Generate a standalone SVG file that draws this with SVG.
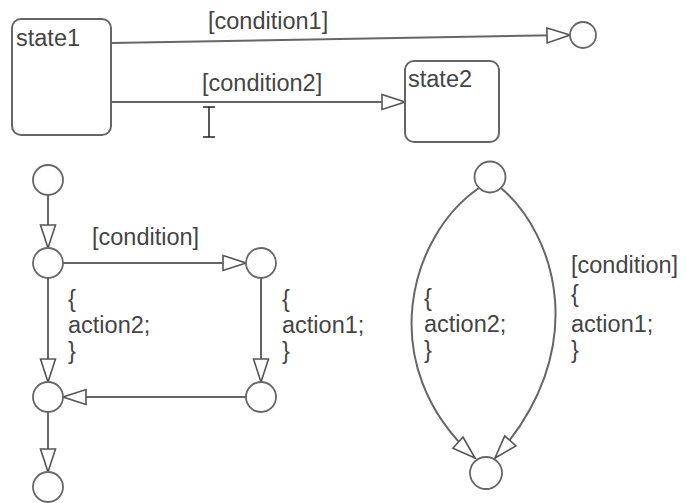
<svg xmlns="http://www.w3.org/2000/svg" width="686" height="503" viewBox="0 0 686 503">
<defs>
<marker id="arr" markerUnits="userSpaceOnUse" viewBox="-2 -2 27 19" markerWidth="27" markerHeight="19" refX="23" refY="7.5" orient="auto">
<path d="M0,0 L23,7.5 L0,15 Z" fill="#fff" stroke="#555" stroke-width="1.6" stroke-linejoin="miter"/>
</marker>
</defs>
<style>
text{font-family:"Liberation Sans",Arial,sans-serif;font-size:23.5px;fill:#444}
.st{fill:#fff;stroke:#666;stroke-width:2}
.jn{fill:#fff;stroke:#666;stroke-width:1.8}
.cn{fill:none;stroke:#666;stroke-width:2;marker-end:url(#arr)}
</style>
<rect width="686" height="503" fill="#fff"/>
<g id="connectors">
<path class="cn" d="M111,43 L570,35"/>
<path class="cn" d="M111,102 L405,102"/>
<path class="cn" d="M48,195 L48,248"/>
<path class="cn" d="M63,263 L246,263"/>
<path class="cn" d="M261,278 L261,382"/>
<path class="cn" d="M246,397 L63,397"/>
<path class="cn" d="M48,278 L48,382"/>
<path class="cn" d="M48,412 L48,472"/>
<path class="cn" d="M479,188 C410,235 372,365 475,458"/>
<path class="cn" d="M501,188 C556,235 592,350 495,458"/>
</g>
<g id="state1">
<rect class="st" x="12" y="19" width="99" height="116" rx="9"/>
<text x="16" y="46">state1</text>
</g>
<g id="state2">
<rect class="st" x="405" y="61" width="94" height="81" rx="9"/>
<text x="408" y="87">state2</text>
</g>
<g id="junction-top">
<circle class="jn" cx="583" cy="35" r="13"/>
</g>
<g id="junction-a"><circle class="jn" cx="48" cy="180" r="15"/></g>
<g id="junction-b"><circle class="jn" cx="48" cy="263" r="15"/></g>
<g id="junction-c"><circle class="jn" cx="261" cy="263" r="15"/></g>
<g id="junction-d"><circle class="jn" cx="261" cy="397" r="15"/></g>
<g id="junction-e"><circle class="jn" cx="48" cy="397" r="15"/></g>
<g id="junction-f"><circle class="jn" cx="48" cy="487" r="15"/></g>
<g id="junction-g"><circle class="jn" cx="490" cy="177" r="15.5"/></g>
<g id="junction-h"><circle class="jn" cx="486" cy="473" r="16"/></g>
<g id="labels">
<text x="208" y="29">[condition1]</text>
<text x="202" y="91">[condition2]</text>
<text x="92" y="245">[condition]</text>
<text x="68" y="307">{</text>
<text x="68" y="333">action2;</text>
<text x="68" y="359">}</text>
<text x="282" y="307">{</text>
<text x="282" y="333">action1;</text>
<text x="282" y="359">}</text>
<text x="424" y="306">{</text>
<text x="424" y="332">action2;</text>
<text x="424" y="358">}</text>
<text x="571" y="273">[condition]</text>
<text x="571" y="302">{</text>
<text x="571" y="332">action1;</text>
<text x="571" y="358">}</text>
</g>
<path d="M203,107 h12 M209,107 v30 M203,137 h12" fill="none" stroke="#222" stroke-width="1.5"/>
</svg>
